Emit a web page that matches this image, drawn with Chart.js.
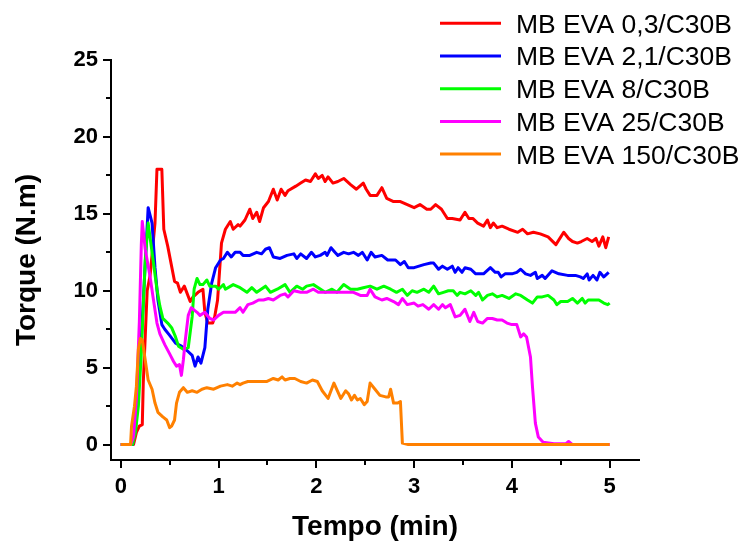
<!DOCTYPE html>
<html><head><meta charset="utf-8">
<script src="https://cdn.jsdelivr.net/npm/chart.js@4.4.1/dist/chart.umd.min.js"></script>
<style>html,body{margin:0;padding:0;background:#fff}canvas{display:block}</style>
</head><body>
<canvas id="c" width="742" height="544"></canvas>
<script>
const seriesLabels = ['MB EVA 0,3/C30B','MB EVA 2,1/C30B','MB EVA 8/C30B','MB EVA 25/C30B','MB EVA 150/C30B'];
const seriesColors = ['#ff0000','#0000ff','#00ff00','#ff00ff','#ff8000'];
const xTicks = [0,1,2,3,4,5];
const yTicks = [0,5,10,15,20,25];
const xMinor = [0.5,1.5,2.5,3.5,4.5];
const yMinor = [2.5,7.5,12.5,17.5,22.5];

const tempo03 = [0,0.13,0.16,0.19,0.22,0.23,0.27,0.3,0.35,0.37,0.42,0.44,0.48,0.55,0.58,0.61,0.65,0.71,0.74,0.79,0.84,0.86,0.89,0.94,0.96,0.99,1.03,1.07,1.12,1.15,1.2,1.22,1.27,1.32,1.35,1.39,1.42,1.46,1.51,1.56,1.6,1.64,1.68,1.71,1.79,1.84,1.89,1.94,1.99,2.02,2.06,2.09,2.12,2.17,2.22,2.28,2.35,2.41,2.48,2.51,2.55,2.62,2.67,2.72,2.79,2.86,2.93,3.0,3.06,3.13,3.17,3.22,3.28,3.34,3.39,3.47,3.52,3.56,3.6,3.65,3.71,3.75,3.78,3.81,3.85,3.9,3.97,4.06,4.11,4.16,4.22,4.29,4.37,4.45,4.53,4.58,4.62,4.67,4.71,4.77,4.82,4.86,4.89,4.93,4.96,4.99];
const torque03 = [0,0,0.8,1.2,1.3,4,10,11,14.4,17.9,17.9,14.0,12.9,10.6,10.5,9.9,10.3,9.3,9.6,9.9,10.1,8.6,7.9,7.9,8.3,9.4,13.1,14.0,14.5,14.0,14.3,14.2,14.6,15.3,14.7,15.1,14.5,15.4,15.8,16.6,15.9,16.6,16.2,16.5,16.8,17.0,17.2,17.1,17.6,17.3,17.5,17.1,17.4,17.0,17.1,17.3,16.9,16.6,17.0,16.6,16.2,16.2,16.7,16.0,15.8,15.8,15.6,15.4,15.6,15.3,15.3,15.6,15.3,14.7,14.7,14.6,15.1,14.7,14.7,14.4,14.2,14.6,14.1,14.4,14.1,14.2,14.0,13.8,14.0,13.7,13.8,13.7,13.5,13.0,13.8,13.4,13.2,13.1,13.2,13.4,13.2,13.4,12.9,13.5,12.8,13.5];

const tempo21 = [0,0.12,0.15,0.19,0.24,0.28,0.32,0.35,0.38,0.42,0.45,0.5,0.56,0.62,0.68,0.73,0.76,0.79,0.82,0.86,0.89,0.93,0.97,1.02,1.05,1.09,1.13,1.17,1.22,1.25,1.32,1.39,1.44,1.48,1.52,1.56,1.63,1.7,1.77,1.8,1.84,1.9,1.95,1.99,2.04,2.09,2.11,2.15,2.19,2.22,2.28,2.33,2.38,2.43,2.47,2.52,2.56,2.6,2.67,2.73,2.81,2.86,2.9,2.94,3.0,3.05,3.1,3.17,3.2,3.25,3.29,3.34,3.39,3.42,3.45,3.49,3.52,3.58,3.63,3.71,3.78,3.83,3.86,3.89,3.93,4.0,4.05,4.09,4.14,4.19,4.24,4.26,4.31,4.34,4.41,4.48,4.57,4.65,4.7,4.73,4.77,4.79,4.83,4.87,4.9,4.94,4.99];
const torque21 = [0,0,1.0,4.5,10.5,15.4,14.4,11.5,9.4,7.8,7.5,7.1,6.6,6.4,6.1,5.8,5.1,5.7,5.3,6.3,8.8,10.5,11.5,12.0,12.1,12.5,12.2,12.5,12.5,12.3,12.3,12.5,12.4,12.7,12.8,12.2,12.1,12.3,12.4,12.1,12.4,12.1,12.5,12.2,12.3,12.5,12.3,12.8,12.5,12.3,12.5,12.4,12.5,12.3,12.5,12.0,12.5,12.2,12.3,12.0,12.0,11.7,11.9,11.5,11.5,11.6,11.7,11.8,11.8,11.4,11.6,11.4,11.6,11.2,11.5,11.2,11.5,11.4,11.1,11.1,11.5,11.2,11.2,10.9,11.1,11.1,11.2,11.4,11.1,11.0,11.2,10.8,11.0,10.8,11.3,11.1,11.0,11.0,10.9,10.8,11.1,10.7,11.0,10.7,11.2,10.9,11.2];

const tempo8 = [0,0.12,0.15,0.18,0.21,0.25,0.28,0.32,0.37,0.40,0.43,0.48,0.52,0.56,0.59,0.64,0.69,0.73,0.75,0.78,0.81,0.84,0.88,0.91,0.97,1.0,1.05,1.07,1.15,1.22,1.29,1.34,1.39,1.48,1.53,1.6,1.68,1.73,1.8,1.86,1.9,1.97,2.02,2.09,2.16,2.21,2.28,2.35,2.42,2.48,2.55,2.62,2.69,2.76,2.82,2.88,2.93,2.98,3.03,3.1,3.15,3.2,3.25,3.3,3.35,3.4,3.44,3.47,3.52,3.58,3.63,3.66,3.7,3.75,3.8,3.85,3.9,3.97,4.04,4.09,4.16,4.21,4.26,4.31,4.37,4.43,4.46,4.5,4.57,4.62,4.67,4.72,4.75,4.78,4.84,4.89,4.94,4.98,5.0];
const torque8 = [0,0,0.8,2.5,6,12,14.4,12.5,10.1,9.0,8.2,7.9,7.6,7.0,6.4,6.2,6.3,8.3,10.1,10.8,10.4,10.4,10.7,10.3,10.3,10.1,10.4,10.1,10.4,10.2,9.9,10.2,9.9,10.3,9.9,10.1,10.4,9.9,10.3,10.1,10.3,10.4,10.2,9.9,10.1,9.9,10.4,10.1,10.1,10.2,10.3,10.1,10.3,10.1,9.9,10.1,9.7,10.0,9.9,10.1,9.9,10.3,9.8,9.9,10.0,10.0,9.7,9.9,9.8,10.0,9.7,9.9,9.4,9.7,9.8,9.6,9.7,9.5,9.8,9.7,9.4,9.2,9.6,9.6,9.7,9.4,9.1,9.3,9.3,9.5,9.2,9.5,9.2,9.4,9.4,9.4,9.2,9.1,9.2];

const tempo25 = [0,0.1,0.13,0.16,0.19,0.21,0.22,0.25,0.30,0.33,0.37,0.40,0.45,0.50,0.54,0.57,0.6,0.62,0.64,0.66,0.69,0.72,0.78,0.81,0.86,0.91,0.95,1.0,1.05,1.12,1.17,1.22,1.25,1.3,1.35,1.41,1.46,1.51,1.56,1.63,1.68,1.71,1.77,1.84,1.9,1.97,2.02,2.07,2.12,2.17,2.24,2.31,2.38,2.45,2.52,2.55,2.6,2.67,2.72,2.79,2.84,2.88,2.93,3.0,3.04,3.09,3.15,3.2,3.25,3.29,3.32,3.37,3.42,3.47,3.52,3.57,3.61,3.65,3.7,3.75,3.8,3.85,3.9,3.95,4.0,4.05,4.09,4.12,4.15,4.19,4.21,4.24,4.27,4.32,4.43,4.55,4.58,4.62,5.0];
const torque25 = [0,0,0.5,3,8,13,14.5,12.7,10.9,9.6,7.9,7.2,6.5,5.9,5.4,5.1,5.2,4.5,5.5,6.8,8.4,8.9,8.6,8.4,8.6,8.2,8.1,8.4,8.6,8.6,8.6,8.9,8.6,9.1,9.2,9.4,9.4,9.5,9.4,9.7,9.8,9.6,10.0,9.9,9.9,10.1,9.9,9.9,9.9,9.9,9.9,9.9,9.9,9.7,9.7,10.1,9.6,9.4,9.5,9.3,9.1,9.5,9.1,9.2,9.0,9.1,8.8,9.1,8.8,9.1,8.9,9.1,8.3,8.4,8.8,8.0,8.6,8.0,7.9,8.2,8.2,8.1,8.1,7.9,7.8,7.8,7.0,7.2,7.0,5.7,3.8,1.4,0.5,0.15,0.05,0.05,0.2,0,0];

const tempo150 = [0,0.1,0.11,0.14,0.16,0.18,0.2,0.22,0.25,0.28,0.32,0.35,0.38,0.43,0.47,0.5,0.52,0.55,0.57,0.6,0.64,0.68,0.73,0.78,0.83,0.88,0.95,1.02,1.09,1.14,1.19,1.22,1.25,1.3,1.39,1.49,1.56,1.61,1.65,1.68,1.73,1.78,1.84,1.9,1.96,2.01,2.06,2.12,2.18,2.25,2.3,2.33,2.36,2.39,2.42,2.45,2.49,2.52,2.55,2.6,2.65,2.71,2.74,2.76,2.79,2.83,2.86,2.88,2.94,5.0];
const torque150 = [0,0,1.2,2.5,3.8,6.2,6.9,6.8,5.5,4.2,3.6,2.7,2.1,1.8,1.6,1.1,1.2,1.6,2.7,3.4,3.7,3.4,3.5,3.4,3.6,3.7,3.6,3.8,3.9,3.8,4.0,3.9,4.0,4.1,4.1,4.1,4.3,4.2,4.4,4.2,4.3,4.3,4.1,4.0,4.2,4.1,3.5,3.0,4.0,3.0,3.5,3.3,2.9,3.2,2.9,3.0,2.6,2.8,4.0,3.6,3.2,3.1,3.1,3.6,2.7,2.7,2.8,0.1,0,0];

const tempos = [tempo03, tempo21, tempo8, tempo25, tempo150];
const torques = [torque03, torque21, torque8, torque25, torque150];

const FONT = '"Liberation Sans", Arial, Helvetica, sans-serif';

const minorTicksPlugin = {
  id: 'minorTicks',
  afterDraw(chart) {
    const {ctx, scales: {x, y}, chartArea} = chart;
    ctx.save();
    ctx.strokeStyle = '#000';
    ctx.lineWidth = 2;
    ctx.beginPath();
    xMinor.forEach(v => {
      const px = Math.round(x.getPixelForValue(v));
      ctx.moveTo(px, chartArea.bottom);
      ctx.lineTo(px, chartArea.bottom + 5);
    });
    yMinor.forEach(v => {
      const py = Math.round(y.getPixelForValue(v));
      ctx.moveTo(chartArea.left, py);
      ctx.lineTo(chartArea.left - 5, py);
    });
    ctx.stroke();
    ctx.restore();
  }
};

const insetLegendPlugin = {
  id: 'insetLegend',
  afterDraw(chart) {
    const ctx = chart.ctx;
    ctx.save();
    chart.data.datasets.forEach((ds, i) => {
      const yy = 23.3 + i * 32.7;
      ctx.strokeStyle = ds.borderColor;
      ctx.lineWidth = 3;
      ctx.beginPath();
      ctx.moveTo(440, yy);
      ctx.lineTo(501, yy);
      ctx.stroke();
      ctx.fillStyle = '#000';
      ctx.font = '26.5px ' + FONT;
      ctx.textBaseline = 'alphabetic';
      ctx.textAlign = 'left';
      ctx.fillText(ds.label, 516, yy + 0.358 * 26.5);
    });
    ctx.restore();
  }
};

const datasets = seriesLabels.map((lab, i) => ({
  label: lab,
  data: tempos[i].map((t, k) => ({x: t, y: torques[i][k]})),
  borderColor: seriesColors[i],
  backgroundColor: seriesColors[i],
  borderWidth: 3,
  pointRadius: 0,
  tension: 0,
  fill: false,
  borderJoinStyle: 'round',
  order: 5 - i
}));

new Chart(document.getElementById('c'), {
  type: 'line',
  data: {datasets},
  options: {
    responsive: false,
    animation: false,
    events: [],
    devicePixelRatio: 1,
    layout: {padding: {top: 60, right: 103, left: 0, bottom: 0}},
    plugins: {legend: {display: false}, tooltip: {enabled: false}},
    scales: {
      x: {
        type: 'linear', min: -0.1, max: 5.3,
        afterFit(s) { s.height = 84; },
        afterBuildTicks(s) { s.ticks = xTicks.map(v => ({value: v})); },
        grid: {drawOnChartArea: false, drawTicks: true, tickLength: 8, color: '#000', lineWidth: 2},
        border: {display: true, color: '#000', width: 2},
        ticks: {color: '#000', font: {family: FONT, size: 22, weight: 'bold'}, padding: 6, maxRotation: 0, autoSkip: false},
        title: {display: true, text: 'Tempo (min)', color: '#000', font: {family: FONT, size: 28, weight: 'bold'}, padding: {top: 0, bottom: 0}}
      },
      y: {
        type: 'linear', min: -1, max: 25,
        afterFit(s) { s.width = 111; },
        afterBuildTicks(s) { s.ticks = yTicks.map(v => ({value: v})); },
        grid: {drawOnChartArea: false, drawTicks: true, tickLength: 8, color: '#000', lineWidth: 2},
        border: {display: true, color: '#000', width: 2},
        ticks: {color: '#000', font: {family: FONT, size: 22, weight: 'bold'}, padding: 5, autoSkip: false},
        title: {display: true, text: 'Torque (N.m)', color: '#000', font: {family: FONT, size: 28, weight: 'bold'}, padding: {top: 10, bottom: 0}}
      }
    }
  },
  plugins: [minorTicksPlugin, insetLegendPlugin]
});
</script>
</body></html>
